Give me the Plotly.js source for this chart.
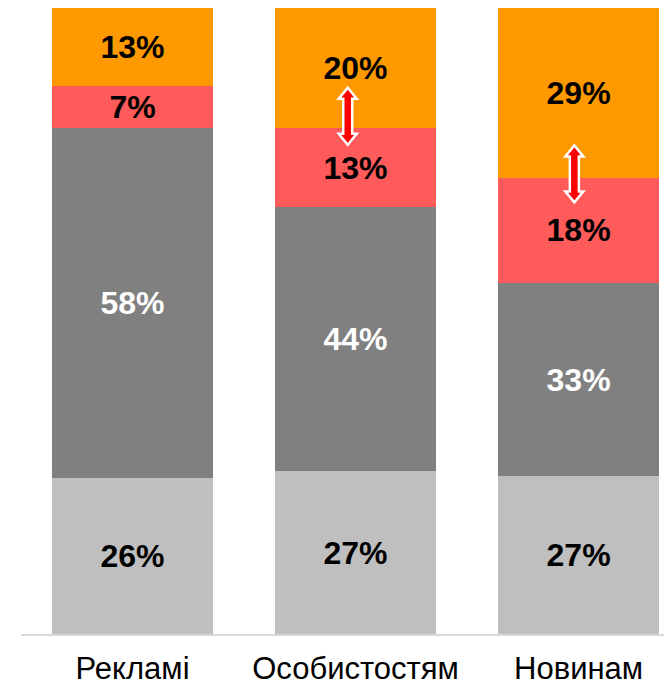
<!DOCTYPE html>
<html>
<head>
<meta charset="utf-8">
<script src="https://cdn.plot.ly/plotly-3.0.1.min.js"></script>
<style>
  html, body { margin: 0; padding: 0; background: #fff; }
  #chart { width: 664px; height: 687px; }
</style>
</head>
<body>
<div id="chart"></div>
<script>
const categories = ['Рекламі', 'Особистостям', 'Новинам'];

// shares per segment, bottom to top (each bar is normalised to 100%)
const lightGrey = [26, 27, 27];
const darkGrey = [58, 44, 33];
const redPart = [7, 13, 18];
const orangePart = [13, 20, 29];

// double arrows on the red/orange border: [x, y centre] in axis units
const arrows = [
    [0.965, 82.7],
    [1.981, 73.5]
];

const font = 'Liberation Sans, Arial, sans-serif';

// Builds one stacked segment trace with its own colour and label colour.
function segment(values, color, textColor) {
    return {
        type: 'bar',
        x: categories,
        y: values,
        marker: {color: color, line: {width: 0}},
        text: values.map(v => v + '%'),
        textposition: 'inside',
        insidetextanchor: 'middle',
        constraintext: 'none',
        textfont: {family: font, size: 32, color: textColor, weight: 'bold'},
        hoverinfo: 'skip',
        showlegend: false
    };
}

const traces = [
    segment(lightGrey, '#bfbfbf', '#000000'),
    segment(darkGrey, '#808080', '#ffffff'),
    segment(redPart, '#ff5b5b', '#000000'),
    segment(orangePart, '#ff9900', '#000000')
];

// Double-headed arrow outline in pixels around its anchor point.
function arrowPath(L, head, headW, shaftW) {
    const h = L - head;
    return `M0,${L} L${headW},${h} L${shaftW},${h} L${shaftW},${-h} L${headW},${-h} ` +
           `L0,${-L} L${-headW},${-h} L${-shaftW},${-h} L${-shaftW},${h} L${-headW},${h} Z`;
}

const shapes = arrows.map(a => ({
    type: 'path',
    xref: 'x', yref: 'y',
    xsizemode: 'pixel', ysizemode: 'pixel',
    xanchor: a[0], yanchor: a[1],
    path: arrowPath(28.5, 11, 9, 4.5),
    fillcolor: '#ff0000',
    line: {color: '#ffffff', width: 2.5}
}));

const layout = {
    width: 664,
    height: 687,
    barmode: 'stack',
    barnorm: 'percent',
    bargap: 0.278,
    paper_bgcolor: '#ffffff',
    plot_bgcolor: '#ffffff',
    margin: {l: 21, r: 0, t: 8, b: 53},
    xaxis: {
        type: 'category',
        range: [-0.5, 2.383],
        showline: true,
        linecolor: '#d9d9d9',
        linewidth: 2,
        ticks: '',
        ticklabelstandoff: 6,
        tickfont: {family: font, size: 31, color: '#000000'},
        fixedrange: true
    },
    yaxis: {
        range: [0, 100],
        visible: false,
        fixedrange: true
    },
    shapes: shapes
};

Plotly.newPlot('chart', traces, layout, {displayModeBar: false, staticPlot: true});
</script>
</body>
</html>
